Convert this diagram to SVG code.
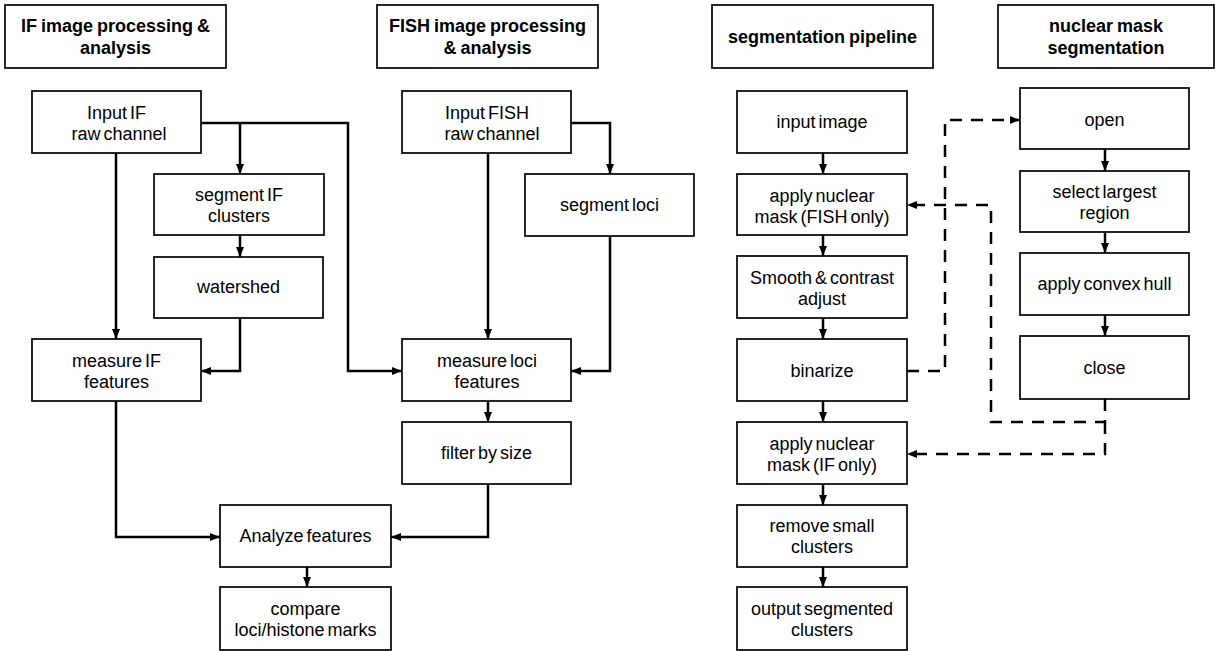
<svg xmlns="http://www.w3.org/2000/svg" width="1215" height="651" viewBox="0 0 1215 651">
<style>
.box{fill:#fff;stroke:#000;stroke-width:1.7}
.t{font-family:"Liberation Sans",Arial,sans-serif;font-size:18px;fill:#000;text-anchor:middle;word-spacing:-2px}
.h{font-family:"Liberation Sans",Arial,sans-serif;font-size:18px;font-weight:bold;fill:#000;text-anchor:middle;word-spacing:-1px}
.c{fill:none;stroke:#000;stroke-width:2.5}
.d{fill:none;stroke:#000;stroke-width:2.5;stroke-dasharray:12 9}
</style>
<defs>
<marker id="a" viewBox="0 0 10 8" refX="10" refY="4" markerWidth="10" markerHeight="8" markerUnits="userSpaceOnUse" orient="auto">
<path d="M0,0 L10,4 L0,8 z" fill="#000"/>
</marker>
</defs>
<rect width="1215" height="651" fill="#fff"/>

<g id="h-if"><rect class="box" x="5" y="5" width="221" height="63"/><text class="h" x="115.5" y="32">IF image processing &amp;</text><text class="h" x="115.5" y="54">analysis</text></g>
<g id="h-fish"><rect class="box" x="377" y="5" width="221" height="63"/><text class="h" x="487.5" y="32">FISH image processing</text><text class="h" x="487.5" y="54">&amp; analysis</text></g>
<g id="h-seg"><rect class="box" x="712" y="5" width="221" height="63"/><text class="h" x="822.5" y="43">segmentation pipeline</text></g>
<g id="h-nuc"><rect class="box" x="998" y="5" width="216" height="63"/><text class="h" x="1106" y="32">nuclear mask</text><text class="h" x="1106" y="54">segmentation</text></g>

<g id="n-inputif"><rect class="box" x="32" y="91" width="169" height="62"/><text class="t" x="116.5" y="119">Input IF</text><text class="t" x="119" y="140">raw channel</text></g>
<g id="n-segif"><rect class="box" x="154" y="174" width="170" height="61"/><text class="t" x="239" y="201">segment IF</text><text class="t" x="239" y="222">clusters</text></g>
<g id="n-watershed"><rect class="box" x="154" y="257" width="169" height="61"/><text class="t" x="238.5" y="293">watershed</text></g>
<g id="n-measif"><rect class="box" x="32" y="339" width="169" height="62"/><text class="t" x="116.5" y="367">measure IF</text><text class="t" x="116.5" y="388">features</text></g>
<g id="n-analyze"><rect class="box" x="220" y="505" width="171" height="62"/><text class="t" x="305.5" y="542">Analyze features</text></g>
<g id="n-compare"><rect class="box" x="220" y="587" width="171" height="63"/><text class="t" x="305.5" y="615">compare</text><text class="t" x="305.5" y="636">loci/histone marks</text></g>

<g id="n-inputfish"><rect class="box" x="402" y="91" width="169" height="62"/><text class="t" x="487" y="119">Input FISH</text><text class="t" x="492" y="140">raw channel</text></g>
<g id="n-segloci"><rect class="box" x="525" y="174" width="169" height="62"/><text class="t" x="609.5" y="211">segment loci</text></g>
<g id="n-measloci"><rect class="box" x="402" y="339" width="169" height="62"/><text class="t" x="487" y="367">measure loci</text><text class="t" x="487" y="388">features</text></g>
<g id="n-filter"><rect class="box" x="402" y="422" width="169" height="62"/><text class="t" x="486.5" y="459">filter by size</text></g>

<g id="n-input"><rect class="box" x="737" y="91" width="170" height="62"/><text class="t" x="822" y="128">input image</text></g>
<g id="n-maskfish"><rect class="box" x="737" y="174" width="170" height="61"/><text class="t" x="822" y="202">apply nuclear</text><text class="t" x="822" y="223">mask (FISH only)</text></g>
<g id="n-smooth"><rect class="box" x="737" y="256" width="170" height="62"/><text class="t" x="822" y="284">Smooth &amp; contrast</text><text class="t" x="822" y="305">adjust</text></g>
<g id="n-binarize"><rect class="box" x="737" y="339" width="170" height="62"/><text class="t" x="822" y="377">binarize</text></g>
<g id="n-maskif"><rect class="box" x="737" y="422" width="170" height="62"/><text class="t" x="822" y="450">apply nuclear</text><text class="t" x="822" y="471">mask (IF only)</text></g>
<g id="n-remove"><rect class="box" x="737" y="505" width="170" height="62"/><text class="t" x="822" y="532">remove small</text><text class="t" x="822" y="553">clusters</text></g>
<g id="n-output"><rect class="box" x="737" y="587" width="170" height="63"/><text class="t" x="822" y="615">output segmented</text><text class="t" x="822" y="636">clusters</text></g>

<g id="n-open"><rect class="box" x="1020" y="88" width="169" height="61"/><text class="t" x="1104.5" y="126">open</text></g>
<g id="n-select"><rect class="box" x="1020" y="171" width="169" height="61"/><text class="t" x="1104.5" y="198">select largest</text><text class="t" x="1104.5" y="219">region</text></g>
<g id="n-hull"><rect class="box" x="1020" y="253" width="169" height="62"/><text class="t" x="1104.5" y="290">apply convex hull</text></g>
<g id="n-close"><rect class="box" x="1020" y="336" width="169" height="63"/><text class="t" x="1104.5" y="374">close</text></g>

<g id="connectors">
<path class="c" d="M116,153 V339" marker-end="url(#a)"/>
<path class="c" d="M201,123 H348 V371 H402" marker-end="url(#a)"/>
<path class="c" d="M240,123 V174" marker-end="url(#a)"/>
<path class="c" d="M240,235 V257" marker-end="url(#a)"/>
<path class="c" d="M240,318 V371 H201" marker-end="url(#a)"/>
<path class="c" d="M116,401 V537 H220" marker-end="url(#a)"/>
<path class="c" d="M307,567 V587" marker-end="url(#a)"/>
<path class="c" d="M488,153 V339" marker-end="url(#a)"/>
<path class="c" d="M571,123 H610 V174" marker-end="url(#a)"/>
<path class="c" d="M610,236 V371 H571" marker-end="url(#a)"/>
<path class="c" d="M488,401 V422" marker-end="url(#a)"/>
<path class="c" d="M488,484 V537 H391" marker-end="url(#a)"/>
<path class="c" d="M823,153 V174" marker-end="url(#a)"/>
<path class="c" d="M823,235 V256" marker-end="url(#a)"/>
<path class="c" d="M823,318 V339" marker-end="url(#a)"/>
<path class="c" d="M823,401 V422" marker-end="url(#a)"/>
<path class="c" d="M823,484 V505" marker-end="url(#a)"/>
<path class="c" d="M823,567 V587" marker-end="url(#a)"/>
<path class="c" d="M1105,149 V171" marker-end="url(#a)"/>
<path class="c" d="M1105,232 V253" marker-end="url(#a)"/>
<path class="c" d="M1105,315 V336" marker-end="url(#a)"/>
<path class="d" d="M907,371 H945 V120 H1020" marker-end="url(#a)"/>
<path class="d" d="M1105,399 V422 H991 V205 H907" marker-end="url(#a)"/>
<path class="d" d="M1105,422 V454 H907" marker-end="url(#a)"/>
</g>
</svg>
